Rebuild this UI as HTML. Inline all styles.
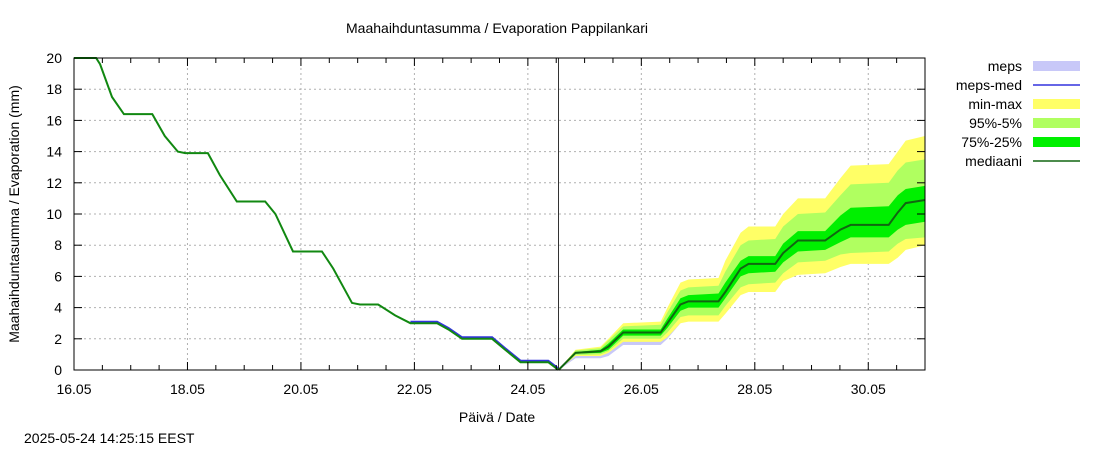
<!DOCTYPE html>
<html><head><meta charset="utf-8"><style>
body{margin:0;background:#fff;}
svg text{font-family:"Liberation Sans",sans-serif;font-size:14px;fill:#000;}
</style></head><body>
<svg id="chart" width="1100" height="450" xmlns="http://www.w3.org/2000/svg">
<rect width="1100" height="450" fill="#fff"/>
<text x="497" y="33" text-anchor="middle">Maahaihduntasumma / Evaporation   Pappilankari</text>
<text x="497" y="422" text-anchor="middle">Päivä / Date</text>
<text transform="translate(19,214) rotate(-90)" text-anchor="middle">Maahaihduntasumma / Evaporation (mm)</text>
<text x="24" y="443">2025-05-24 14:25:15 EEST</text>
<g id="grid"></g><g id="bands"></g><g id="lines"></g><g id="axes"></g><g id="legend"></g>
</svg>
<script>
const xTickLabels=["16.05","18.05","20.05","22.05","24.05","26.05","28.05","30.05"];
const yTickLabels=[0,2,4,6,8,10,12,14,16,18,20];
const histT=[0,0.39,0.46,0.67,0.88,1.38,1.6,1.83,1.96,2.36,2.57,2.87,3.37,3.55,3.86,4.37,4.57,4.9,5.04,5.36,5.66,5.93,6.4,6.6,6.84,7.37,7.6,7.87,8.36,8.54];
const histV=[20,20,19.6,17.5,16.4,16.4,15,14,13.9,13.9,12.5,10.8,10.8,10,7.6,7.6,6.5,4.3,4.2,4.2,3.5,3.0,3.0,2.6,2.0,2.0,1.3,0.5,0.5,0];
const fcT=[8.54,8.84,9.28,9.42,9.68,10.34,10.46,10.69,10.83,11.36,11.48,11.75,11.89,12.36,12.5,12.76,13.24,13.51,13.69,14.36,14.52,14.66,15];
const fcMed=[0,1.1,1.2,1.5,2.4,2.4,3.0,4.2,4.4,4.4,5.0,6.5,6.8,6.8,7.5,8.3,8.3,9.0,9.3,9.3,10.1,10.7,10.9];
const fcMax=[0,1.3,1.5,2.0,3.0,3.1,4.0,5.6,5.8,5.9,7.0,8.8,9.2,9.2,10.0,11.0,11.0,12.3,13.1,13.2,14.0,14.7,15.0];
const fcP95=[0,1.25,1.4,1.9,2.8,2.9,3.7,5.1,5.3,5.4,6.3,8.0,8.3,8.4,9.2,10.0,10.1,11.2,11.9,12.0,12.8,13.3,13.5];
const fcP75=[0,1.15,1.3,1.7,2.6,2.6,3.3,4.6,4.8,4.9,5.6,7.0,7.3,7.3,8.1,8.9,8.9,9.9,10.4,10.5,11.2,11.6,11.8];
const fcP25=[0,1.05,1.1,1.3,2.2,2.2,2.7,3.8,4.0,4.0,4.6,6.0,6.2,6.3,6.9,7.6,7.7,8.2,8.5,8.5,9.0,9.3,9.5];
const fcP5=[0,0.95,1.0,1.2,2.0,2.0,2.4,3.4,3.5,3.5,4.1,5.3,5.5,5.6,6.2,6.9,7.0,7.4,7.5,7.6,8.1,8.4,8.5];
const fcMin=[0,0.9,0.9,1.1,1.8,1.8,2.1,3.0,3.1,3.1,3.6,4.8,5.0,5.0,5.7,6.1,6.2,6.6,6.8,6.8,7.2,7.7,8.0];
const mepsLow=[0,0.75,0.75,0.9,1.6,1.6,2.0,3.0,3.2];
const nowDay=8.54;
const X0=74,X1=925,Y0=370,Y1=58;
const xs=d=>X0+d*(X1-X0)/15, ys=v=>Y0-v*(Y0-Y1)/20;
const NS="http://www.w3.org/2000/svg";
function mk(p,tag,a){const e=document.createElementNS(NS,tag);for(const k in a)e.setAttribute(k,a[k]);document.getElementById(p).appendChild(e);return e;}
xTickLabels.forEach((l,i)=>{const x=xs(i*2);
 const g=mk('grid','line',{x1:x,x2:x,y1:Y1,y2:Y0,stroke:'#b0b0b0','stroke-dasharray':'2,3'});
 
 
 const t=mk('axes','text',{x:x,y:Y0+24,'text-anchor':'middle'});t.textContent=l;
 
 
});
for(let d=0;d<=15;d+=0.5){const x=xs(d),L=(d%2===0)?8:5;
 mk('axes','line',{x1:x,x2:x,y1:Y0,y2:Y0-L,stroke:'#000'});mk('axes','line',{x1:x,x2:x,y1:Y1,y2:Y1+L,stroke:'#000'});}
yTickLabels.forEach(v=>{const y=ys(v);
 const g=mk('grid','line',{x1:X0,x2:X1,y1:y,y2:y,stroke:'#b0b0b0','stroke-dasharray':'2,3'});
 
 
 mk('axes','line',{x1:X0,x2:X0+8,y1:y,y2:y,stroke:'#000'});mk('axes','line',{x1:X1,x2:X1-8,y1:y,y2:y,stroke:'#000'});
 const t=mk('axes','text',{x:X0-12,y:y+5,'text-anchor':'end'});t.textContent=v;
 
 
});
const frame=mk('axes','rect',{x:X0,y:Y1,width:X1-X0,height:Y0-Y1,fill:'none',stroke:'#000'});


function band(hi,lo,T,col,name){let d='M';T.forEach((t,i)=>d+=xs(t)+','+ys(hi[i])+' L');
 for(let i=T.length-1;i>=0;i--)d+=xs(T[i])+','+ys(lo[i])+(i?' L':' Z');
 const p=mk('bands','path',{d:d,fill:col});
 
 }
band(fcMed.slice(0,mepsLow.length),mepsLow,fcT.slice(0,mepsLow.length),'#c8c8f8','meps-band');
band(fcMax,fcMin,fcT,'#ffff66','min-max-band');
band(fcP95,fcP5,fcT,'#b0ff60','p95-p5-band');
band(fcP75,fcP25,fcT,'#00f000','p75-p25-band');
function line(T,V,col,w,name,off){const p=mk('lines','polyline',{points:T.map((t,i)=>xs(t)+','+(ys(V[i])-off)).join(' '),fill:'none',stroke:col,'stroke-width':w});
 
 }
const k0=histT.findIndex(t=>t>=5.9);
line(histT.slice(k0),histV.slice(k0),'#3333dd',2,'meps-med-line',1.5);
line(histT,histV,'#118811',2,'history-line',0);
line(fcT,fcMed,'#116611',2,'mediaani-line',0);
const nl=mk('lines','line',{x1:xs(nowDay),x2:xs(nowDay),y1:Y1,y2:Y0,stroke:'#333','stroke-width':1});


const legNames=["meps","meps-med","min-max","95%-5%","75%-25%","mediaani"];
const legCols=["#c8c8f8","#3333dd","#ffff66","#b0ff60","#00f000","#116611"];
const legBox=[true,false,true,true,true,false];
legNames.forEach((n,i)=>{const y=66+i*19;
 const t=mk('legend','text',{x:1022,y:y+5,'text-anchor':'end'});t.textContent=n;
 
 
 const s=legBox[i]?mk('legend','rect',{x:1033,y:y-5,width:47,height:10,fill:legCols[i]}):mk('legend','line',{x1:1033,x2:1080,y1:y,y2:y,stroke:legCols[i],'stroke-width':1.5});
 
 
});
</script>
</body></html>
